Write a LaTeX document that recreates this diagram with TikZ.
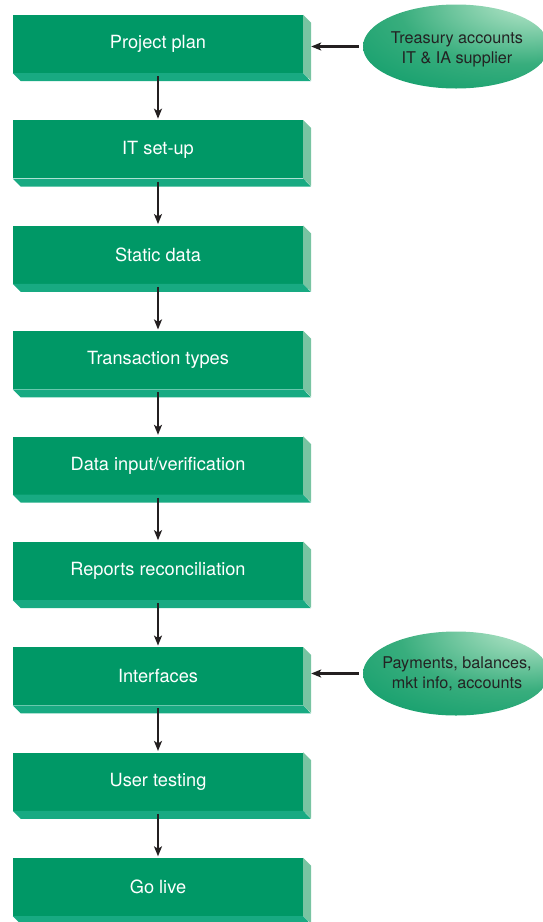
\documentclass[tikz,border=0pt]{standalone}
\usepackage{fontspec}
\setmainfont{TeX Gyre Heros}
\usetikzlibrary{shapes.geometric,arrows.meta}

\definecolor{frontcol}{RGB}{0,152,102}
\definecolor{basecol}{RGB}{24,170,130}
\definecolor{sidecol}{RGB}{120,196,162}
\definecolor{inkcol}{RGB}{35,31,32}
\definecolor{ovaltext}{RGB}{35,35,35}

% soft highlight towards the upper right of each oval
\pgfdeclareradialshading{ovalglow}{\pgfpoint{25bp}{32bp}}{%
  rgb(0bp)=(0.86,0.95,0.90);
  rgb(12bp)=(0.60,0.85,0.72);
  rgb(32bp)=(0.22,0.68,0.49);
  rgb(55bp)=(0.04,0.61,0.41);
  rgb(100bp)=(0,0.58,0.38)}

\tikzset{
  stagebox/.style={rectangle, fill=frontcol, inner sep=0pt,
    minimum width=290pt, minimum height=58pt,
    text=white, font=\fontsize{18.2}{21}\selectfont},
  sourceoval/.style={ellipse, shading=ovalglow, inner sep=0pt,
    minimum width=186pt, minimum height=84pt},
  ovallabel/.style={align=center, inner sep=0pt,
    text=ovaltext, font=\fontsize{16.2}{20}\selectfont},
  flowarrow/.style={draw=inkcol, line width=2.4pt,
    -{Stealth[length=10pt,width=8pt,inset=2.5pt]}},
}

\begin{document}
\begin{tikzpicture}[x=1pt,y=-1pt]
\useasboundingbox (0,0) rectangle (542,922);

% the nine stages, each a slab with a lit side and base
\foreach \name/\label [count=\i from 0] in {
    b1/Project plan, b2/IT set-up, b3/Static data,
    b4/Transaction types, b5/Data input\slash verification,
    b6/Reports reconciliation, b7/Interfaces,
    b8/User testing, b9/Go live} {
  \node[stagebox] (\name) at (158, {44 + 105.375*\i}) {\label};
  \fill[sidecol] (\name.north east) -- ++(8,8) -- ++(0,58)
    -- (\name.south east) -- cycle;
  \fill[basecol] (\name.south west) -- ++(8,8) -- ++(290,0)
    -- (\name.south east) -- cycle;
}

% downward flow between stages
\foreach \a/\b in {b1/b2, b2/b3, b3/b4, b4/b5, b5/b6, b6/b7, b7/b8, b8/b9}
  \draw[flowarrow, shorten <=3pt, shorten >=1.5pt] (\a.south) -- (\b.north);

% external inputs
\node[sourceoval] (e1) at (456,46.5) {};
\node[ovallabel] (e1t) at (457,49) {Treasury accounts\\IT \& IA supplier};
\node[sourceoval] (e2) at (456,673.5) {};
\node[ovallabel] (e2t) at (457,674) {Payments, balances,\\mkt info, accounts};

\coordinate (s1) at ([xshift=8pt]b1.east);
\coordinate (s2) at ([xshift=8pt]b7.east);
\draw[flowarrow, shorten <=4pt] (e1.west) -- (e1.west -| s1);
\draw[flowarrow, shorten <=4pt] (e2.west) -- (e2.west -| s2);
\end{tikzpicture}
\end{document}
